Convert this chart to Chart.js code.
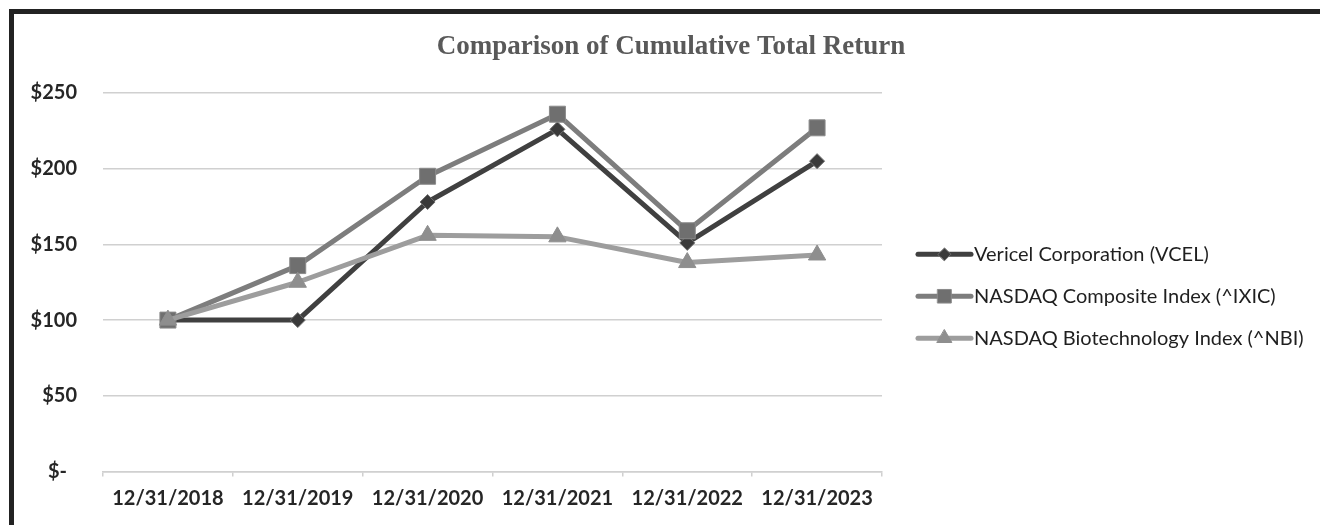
<!DOCTYPE html>
<html>
<head>
<meta charset="utf-8">
<script src="https://cdn.jsdelivr.net/npm/chart.js@4/dist/chart.umd.min.js"></script>
<style>
  html, body { margin: 0; padding: 0; background: #ffffff; }
  #wrap { position: relative; width: 1320px; height: 525px; overflow: hidden; }
  #c { position: absolute; left: 0; top: 0; }
  #frame { position: absolute; left: 9px; top: 9px; right: 0; bottom: 0;
           border-top: 5px solid #222; border-left: 5px solid #222; pointer-events: none; }
</style>
</head>
<body>
<div id="wrap">
  <canvas id="c" width="1320" height="525"></canvas>
  <div id="frame"></div>
</div>
<script>
// ---- data ----
const chartTitle = 'Comparison of Cumulative Total Return';
const categories = ['12/31/2018', '12/31/2019', '12/31/2020', '12/31/2021', '12/31/2022', '12/31/2023'];
const seriesNames = ['Vericel Corporation (VCEL)', 'NASDAQ Composite Index (^IXIC)', 'NASDAQ Biotechnology Index (^NBI)'];
const vcelValues = [100, 100, 178, 226, 151, 205];
const ixicValues = [100, 136, 195, 236, 159, 227];
const nbiValues  = [100, 125, 156, 155, 138, 143];
const yTickValues = [0, 50, 100, 150, 200, 250];
const yTickLabels = ['$-', '$50', '$100', '$150', '$200', '$250'];

// ---- styles ----
Chart.defaults.font.family = 'Lato';
const LABEL_COLOR = '#262626';
const GRID_COLOR = '#d0d0d0';
const LEGEND_BOX_WIDTH = 438;

const sideLegend = {
  id: 'sideLegend',
  beforeInit(chart) {
    const box = {
      position: 'right',
      weight: 0,
      fullSize: false,
      options: { display: true },
      left: 0, top: 0, right: 0, bottom: 0, width: 0, height: 0,
      isHorizontal() { return false; },
      update(maxWidth, maxHeight) {
        this.width = LEGEND_BOX_WIDTH;
        this.height = maxHeight;
        return { width: this.width, height: this.height };
      },
      getPadding() { return { top: 0, left: 0, right: 0, bottom: 0 }; },
      draw() {
        const ctx = chart.ctx;
        const midY = (this.top + this.bottom) / 2;
        chart.data.datasets.forEach((ds, i) => {
          const y = midY + 14 + (i - 1) * 42;
          const x0 = this.left + 36, x1 = this.left + 89;
          ctx.save();
          ctx.strokeStyle = ds.borderColor;
          ctx.lineWidth = ds.borderWidth;
          ctx.lineCap = 'round';
          ctx.beginPath();
          ctx.moveTo(x0, y);
          ctx.lineTo(x1, y);
          ctx.stroke();
          ctx.fillStyle = ds.pointBackgroundColor;
          ctx.strokeStyle = ds.pointBorderColor;
          ctx.lineWidth = ds.pointBorderWidth;
          Chart.helpers.drawPoint(ctx, {
            pointStyle: ds.pointStyle,
            radius: ds.pointRadius * 0.85,
            rotation: 0,
            borderWidth: ds.pointBorderWidth
          }, (x0 + x1) / 2, y);
          ctx.fillStyle = '#1f1f1f';
          ctx.font = '20px Lato';
          ctx.textBaseline = 'middle';
          ctx.textAlign = 'left';
          ctx.fillText(ds.label, this.left + 92, y);
          ctx.restore();
        });
      }
    };
    Chart.layouts.addBox(chart, box);
  }
};

new Chart(document.getElementById('c'), {
  type: 'line',
  data: {
    labels: categories,
    datasets: [
      {
        label: seriesNames[0], data: vcelValues, order: 3,
        borderColor: '#404040', borderWidth: 5,
        pointStyle: 'rectRot', pointRadius: 7.5,
        pointBackgroundColor: '#3a3a3a', pointBorderColor: '#6e6e6e', pointBorderWidth: 1
      },
      {
        label: seriesNames[1], data: ixicValues, order: 2,
        borderColor: '#7d7d7d', borderWidth: 5,
        pointStyle: 'rect', pointRadius: 11.3,
        pointBackgroundColor: '#6f6f6f', pointBorderColor: '#8a8a8a', pointBorderWidth: 1
      },
      {
        label: seriesNames[2], data: nbiValues, order: 1,
        borderColor: '#9d9d9d', borderWidth: 5,
        pointStyle: 'triangle', pointRadius: 10,
        pointBackgroundColor: '#8e8e8e', pointBorderColor: '#8e8e8e', pointBorderWidth: 1
      }
    ].map(d => Object.assign(d, {
      tension: 0, fill: false,
      borderJoinStyle: 'round', borderCapStyle: 'round',
      pointHoverRadius: d.pointRadius
    }))
  },
  options: {
    responsive: false,
    animation: false,
    events: [],
    layout: { padding: { left: 22, right: 0, top: 0, bottom: 0 } },
    plugins: {
      legend: { display: false },
      tooltip: { enabled: false },
      title: {
        display: true,
        text: chartTitle,
        color: '#595959',
        font: { family: '"Liberation Serif", "Times New Roman", serif', size: 27, weight: 'bold' },
        padding: { top: 30.8, bottom: 29.8 }
      }
    },
    scales: {
      x: {
        offset: true,
        grid: {
          offset: true, drawOnChartArea: false, drawTicks: true,
          tickLength: 5, color: GRID_COLOR, lineWidth: 1.5
        },
        border: { display: true, color: GRID_COLOR, width: 1.5 },
        ticks: {
          color: LABEL_COLOR, padding: 10, maxRotation: 0, autoSkip: false,
          font: { family: 'Lato', size: 20, weight: 'bold' }
        },
        afterFit(scale) { scale.height = 53.5; }
      },
      y: {
        min: 0, max: 250,
        grid: { color: GRID_COLOR, lineWidth: 1.5, drawTicks: false },
        border: { display: false },
        ticks: {
          stepSize: 50, padding: 26, color: LABEL_COLOR,
          font: { family: 'Lato', size: 20, weight: 'bold' },
          callback(value) {
            const i = yTickValues.indexOf(value);
            let s = i >= 0 ? yTickLabels[i] : '';
            if (value === 0) s += '\u2002';
            return s;
          }
        },
        afterFit(scale) { scale.width = 81; }
      }
    }
  },
  plugins: [sideLegend]
});
</script>
</body>
</html>
